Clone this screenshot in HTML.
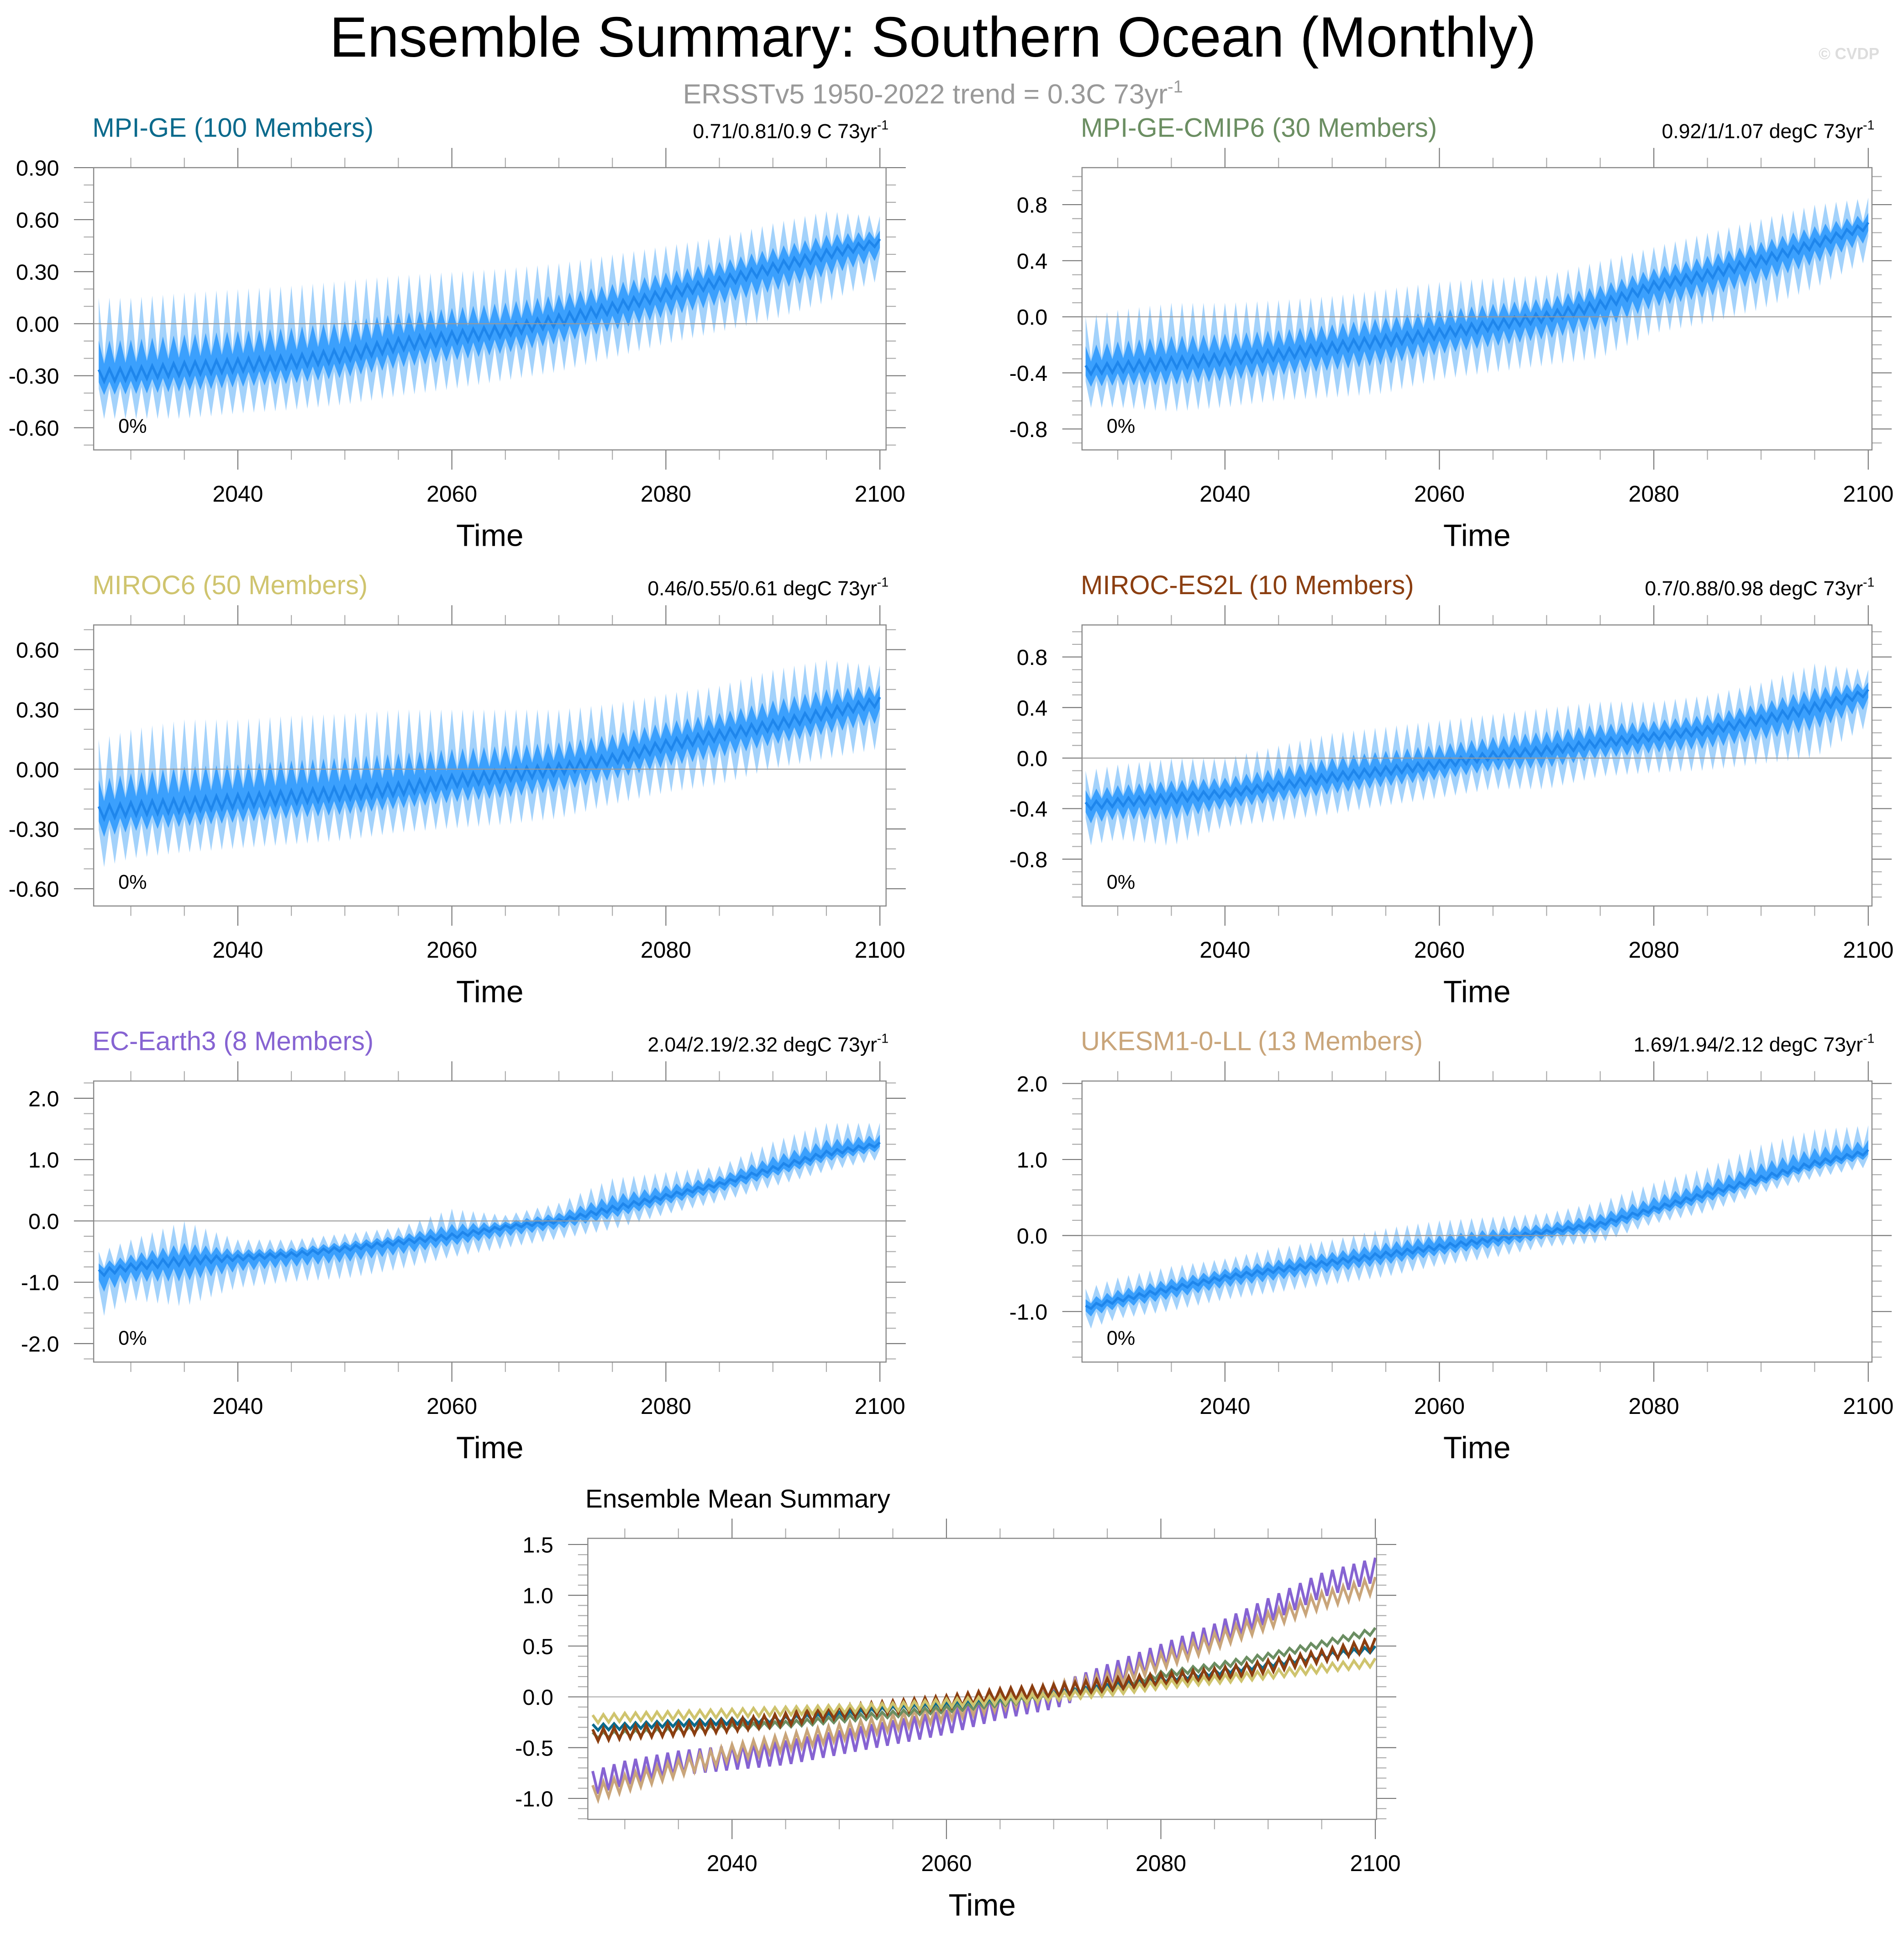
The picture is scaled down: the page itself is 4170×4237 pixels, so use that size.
<!DOCTYPE html>
<html><head><meta charset="utf-8"><style>
html,body{margin:0;padding:0;background:#fff;}
svg{display:block;font-family:"Liberation Sans",sans-serif;}
</style></head><body>
<svg id="fig" width="4170" height="4237" viewBox="0 0 1545 1569.8" preserveAspectRatio="none" xmlns="http://www.w3.org/2000/svg">
<text x="757" y="46" text-anchor="middle" font-size="46" fill="#000">Ensemble Summary: Southern Ocean (Monthly)</text>
<text x="757" y="84" text-anchor="middle" font-size="22.5" fill="#999">ERSSTv5 1950-2022 trend = 0.3C 73yr<tspan dy="-9" font-size="14">-1</tspan></text>
<text x="1525" y="48" text-anchor="end" font-size="13" font-weight="bold" fill="#ddd">© CVDP</text>
<g id="plots"></g>
</svg>
<script>
// ---- data (5-year anchor years) ----
const years = [2027,2030,2035,2040,2045,2050,2055,2060,2065,2070,2075,2080,2085,2090,2095,2100];
const mpigeMean   = [-0.30,-0.29,-0.26,-0.24,-0.22,-0.18,-0.12,-0.08,-0.04,0.02,0.09,0.17,0.24,0.32,0.40,0.47];
const mpigeHi     = [0.15,0.15,0.18,0.20,0.22,0.25,0.28,0.30,0.32,0.35,0.40,0.45,0.50,0.58,0.65,0.62];
const mpigeLo     = [-0.55,-0.55,-0.55,-0.52,-0.50,-0.47,-0.42,-0.38,-0.33,-0.28,-0.20,-0.12,-0.05,0.02,0.12,0.25];
const cmip6Mean   = [-0.38,-0.36,-0.33,-0.30,-0.27,-0.22,-0.17,-0.12,-0.06,0.00,0.08,0.22,0.30,0.40,0.52,0.65];
const cmip6Hi     = [0.00,0.05,0.10,0.10,0.12,0.15,0.20,0.25,0.28,0.30,0.40,0.50,0.60,0.70,0.80,0.85];
const cmip6Lo     = [-0.65,-0.65,-0.68,-0.65,-0.60,-0.58,-0.55,-0.45,-0.40,-0.35,-0.30,-0.12,-0.05,0.05,0.20,0.40];
const miroc6Mean  = [-0.22,-0.20,-0.18,-0.16,-0.14,-0.12,-0.10,-0.06,-0.03,0.00,0.05,0.12,0.17,0.22,0.28,0.34];
const miroc6Hi    = [0.15,0.20,0.25,0.25,0.27,0.28,0.30,0.30,0.30,0.30,0.33,0.38,0.42,0.50,0.55,0.52];
const miroc6Lo    = [-0.50,-0.45,-0.42,-0.40,-0.38,-0.36,-0.32,-0.30,-0.28,-0.25,-0.18,-0.12,-0.08,0.00,0.05,0.10];
const es2lMean    = [-0.38,-0.35,-0.32,-0.28,-0.22,-0.15,-0.10,-0.05,0.02,0.06,0.12,0.17,0.22,0.30,0.40,0.52];
const es2lHi      = [-0.10,-0.05,0.00,0.00,0.10,0.20,0.25,0.30,0.35,0.40,0.45,0.45,0.50,0.60,0.75,0.70];
const es2lLo      = [-0.70,-0.65,-0.70,-0.55,-0.50,-0.45,-0.38,-0.32,-0.25,-0.25,-0.15,-0.12,-0.10,-0.05,0.00,0.25];
const ecMean      = [-0.85,-0.75,-0.65,-0.60,-0.55,-0.45,-0.35,-0.25,-0.10,0.00,0.20,0.40,0.60,0.85,1.10,1.25];
const ecHi        = [-0.50,-0.30,0.00,-0.30,-0.30,-0.20,-0.10,0.20,0.10,0.30,0.70,0.80,0.90,1.30,1.60,1.60];
const ecLo        = [-1.60,-1.30,-1.40,-1.10,-1.00,-0.95,-0.80,-0.60,-0.45,-0.30,-0.15,0.10,0.30,0.55,0.80,1.00];
const ukMean      = [-0.95,-0.85,-0.70,-0.55,-0.45,-0.35,-0.25,-0.15,-0.05,0.05,0.15,0.35,0.55,0.75,0.95,1.10];
const ukHi        = [-0.70,-0.55,-0.40,-0.30,-0.15,-0.05,0.10,0.20,0.25,0.30,0.45,0.70,0.90,1.20,1.40,1.45];
const ukLo        = [-1.25,-1.10,-1.00,-0.85,-0.75,-0.65,-0.55,-0.40,-0.30,-0.15,-0.10,0.15,0.30,0.55,0.75,0.90];
const wiggleAmp   = [0.03,0.03,0.04,0.06,0.12,0.08];
const modelNames  = ["MPI-GE","MPI-GE-CMIP6","MIROC6","MIROC-ES2L","EC-Earth3","UKESM1-0-LL"];
const memberCount = [100,30,50,10,8,13];
const trendText   = ["0.71/0.81/0.9 C 73yr","0.92/1/1.07 degC 73yr","0.46/0.55/0.61 degC 73yr","0.7/0.88/0.98 degC 73yr","2.04/2.19/2.32 degC 73yr","1.69/1.94/2.12 degC 73yr"];
const xTicks      = [2040,2060,2080,2100];

const NS="http://www.w3.org/2000/svg";
const root=document.getElementById('plots');
function mk(tag,attrs,parent){const e=document.createElementNS(NS,tag);for(const k in attrs)e.setAttribute(k,attrs[k]);(parent||root).appendChild(e);return e;}
function interp(arr,t){if(t<=years[0])return arr[0];for(let i=1;i<years.length;i++){if(t<=years[i]){const f=(t-years[i-1])/(years[i]-years[i-1]);return arr[i-1]+f*(arr[i]-arr[i-1]);}}return arr[arr.length-1];}

const panels=[
 {x0:76,x1:719,y0:136,y1:365,xa:[2040,193],xb:[2100,714],ya:[0.9,136],yb:[-0.6,347],tick:0.3,minor:0.1,dec:2,color:"#0a6a8c",mean:mpigeMean,hi:mpigeHi,lo:mpigeLo},
 {x0:878,x1:1519,y0:136,y1:365,xa:[2040,994],xb:[2100,1516],ya:[0.8,166],yb:[-0.8,348],tick:0.4,minor:0.1,dec:1,color:"#6b8e62",mean:cmip6Mean,hi:cmip6Hi,lo:cmip6Lo},
 {x0:76,x1:719,y0:507,y1:735,xa:[2040,193],xb:[2100,714],ya:[0.6,527],yb:[-0.6,721],tick:0.3,minor:0.1,dec:2,color:"#cfc46e",mean:miroc6Mean,hi:miroc6Hi,lo:miroc6Lo},
 {x0:878,x1:1519,y0:507,y1:735,xa:[2040,994],xb:[2100,1516],ya:[0.8,533],yb:[-0.8,697],tick:0.4,minor:0.1,dec:1,color:"#8b3e10",mean:es2lMean,hi:es2lHi,lo:es2lLo},
 {x0:76,x1:719,y0:877,y1:1105,xa:[2040,193],xb:[2100,714],ya:[2,891],yb:[-2,1090],tick:1,minor:0.25,dec:1,color:"#8663d2",mean:ecMean,hi:ecHi,lo:ecLo},
 {x0:878,x1:1519,y0:877,y1:1105,xa:[2040,994],xb:[2100,1516],ya:[2,879],yb:[-1,1064],tick:1,minor:0.2,dec:1,color:"#c9a57a",mean:ukMean,hi:ukHi,lo:ukLo}
];

function axes(p,g){
  const X=t=>p.xa[1]+(t-p.xa[0])*(p.xb[1]-p.xa[1])/(p.xb[0]-p.xa[0]);
  const Y=v=>p.ya[1]+(v-p.ya[0])*(p.yb[1]-p.ya[1])/(p.yb[0]-p.ya[0]);
  for(let t=2030;t<=2100;t+=5){const x=X(t);const maj=t%20===0;
    mk('line',{x1:x,x2:x,y1:p.y0,y2:p.y0-(maj?16:8),stroke:maj?'#777':'#aaa','stroke-width':0.8},g);
    mk('line',{x1:x,x2:x,y1:p.y1,y2:p.y1+(maj?16:8),stroke:maj?'#777':'#aaa','stroke-width':0.8},g);}
  const vmin=Math.min(p.ya[0],p.yb[0])-p.tick, vmax=Math.max(p.ya[0],p.yb[0])+p.tick;
  for(let v=Math.ceil(vmin/p.minor)*p.minor;v<=vmax+1e-9;v+=p.minor){const y=Y(v);if(y<p.y0-0.5||y>p.y1+0.5)continue;
    const maj=Math.abs(v/p.tick-Math.round(v/p.tick))<1e-6;
    mk('line',{x1:p.x0,x2:p.x0-(maj?16:8),y1:y,y2:y,stroke:maj?'#777':'#aaa','stroke-width':0.8},g);
    mk('line',{x1:p.x1,x2:p.x1+(maj?16:8),y1:y,y2:y,stroke:maj?'#777':'#aaa','stroke-width':0.8},g);
    if(maj){const t=mk('text',{x:p.x0-28,y:y+6.5,'text-anchor':'end','font-size':18},g);t.textContent=(Math.abs(v)<1e-9?0:v).toFixed(p.dec);
      
      }}
  xTicks.forEach(t=>{const tx=mk('text',{x:X(t),y:p.y1+42,'text-anchor':'middle','font-size':18.5},g);tx.textContent=t;
    
    });
  const tl=mk('text',{x:(p.x0+p.x1)/2,y:p.y1+78,'text-anchor':'middle','font-size':25},g);tl.textContent='Time';
  
  
  return {X,Y};
}

panels.forEach((p,i)=>{
  const g=mk('g',{});
  
  
  const {X,Y}=axes(p,g);
  const clip=mk('clipPath',{id:'c'+i},g);mk('rect',{x:p.x0,y:p.y0,width:p.x1-p.x0,height:p.y1-p.y0},clip);
  const d=mk('g',{'clip-path':'url(#c'+i+')'},g);
  let top=[],bot=[],itop=[],ibot=[],mline=[];
  for(let y=2027;y<2100.01;y+=0.5){
    const m=interp(p.mean,y),h=interp(p.hi,y),l=interp(p.lo,y);
    const peak=(Math.round(y*2)%2===0);
    top.push([X(y),Y(peak?h:m+(h-m)*0.2)]);
    bot.push([X(y),Y(peak?m-(m-l)*0.3:l)]);
    itop.push([X(y),Y(m+(h-m)*(peak?0.45:0.15))]);
    ibot.push([X(y),Y(m-(m-l)*(peak?0.15:0.45))]);
    mline.push([X(y),Y(m+(peak?0.05:-0.05)*(h-l))]);
  }
  const poly=(a,b)=>a.concat(b.slice().reverse()).map(q=>q[0].toFixed(1)+','+q[1].toFixed(1)).join(' ');
  const o=mk('polygon',{points:poly(top,bot),fill:'#a3d2fb'},d);
  
  
  const inn=mk('polygon',{points:poly(itop,ibot),fill:'#3ba0fd'},d);
  
  
  const ml=mk('polyline',{points:mline.map(q=>q[0].toFixed(1)+','+q[1].toFixed(1)).join(' '),fill:'none',stroke:'#1e86ec','stroke-width':2},d);
  
  
  mk('line',{x1:p.x0,x2:p.x1,y1:Y(0),y2:Y(0),stroke:'#999','stroke-width':0.8},g);
  mk('rect',{x:p.x0,y:p.y0,width:p.x1-p.x0,height:p.y1-p.y0,fill:'none',stroke:'#888','stroke-width':0.9},g);
  const pc=mk('text',{x:p.x0+20,y:p.y1-14,'font-size':16},g);pc.textContent='0%';
  
  
  const tt=mk('text',{x:p.x0-1,y:p.y0-25,'font-size':21.5,fill:p.color},g);tt.textContent=modelNames[i]+' ('+memberCount[i]+' Members)';
  
  
  const tr=mk('text',{x:p.x1+2,y:p.y0-24,'text-anchor':'end','font-size':16.5},g);
  tr.innerHTML=trendText[i]+'<tspan dy="-7" font-size="10.5">-1</tspan>';
  
  
});

// ---- bottom summary ----
const bp={x0:477,x1:1117,y0:1248,y1:1476,xa:[2040,594],xb:[2100,1116],ya:[1.5,1253],yb:[-1,1459],tick:0.5,minor:0.1,dec:1};
const bg=mk('g',{});


const B=axes(bp,bg);
mk('line',{x1:bp.x0,x2:bp.x1,y1:B.Y(0),y2:B.Y(0),stroke:'#aaa','stroke-width':0.8},bg);
const summaryMeans=[mpigeMean,cmip6Mean,miroc6Mean,es2lMean,ecMean,ukMean];
const drawOrder=[4,5,1,0,3,2];
drawOrder.forEach(i=>{
  const pts=[];
  for(let y=2027;y<=2100.01;y+=0.5){const pk=(Math.round(y*2)%2===0);pts.push([B.X(y),B.Y(interp(summaryMeans[i],y)+(pk?wiggleAmp[i]:-wiggleAmp[i]))]);}
  const l=mk('polyline',{points:pts.map(q=>q[0].toFixed(1)+','+q[1].toFixed(1)).join(' '),fill:'none',stroke:panels[i].color,'stroke-width':2.2},bg);
  
  
});
mk('rect',{x:bp.x0,y:bp.y0,width:bp.x1-bp.x0,height:bp.y1-bp.y0,fill:'none',stroke:'#888','stroke-width':0.9},bg);
const st=mk('text',{x:bp.x0-2,y:bp.y0-25,'font-size':21},bg);st.textContent='Ensemble Mean Summary';


</script>
</body></html>
